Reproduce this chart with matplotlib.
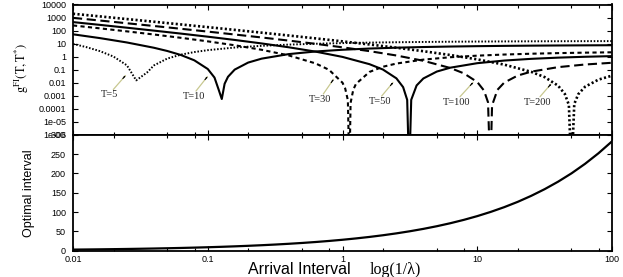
import matplotlib
matplotlib.use("Agg")
import matplotlib.pyplot as plt
from matplotlib.ticker import LogLocator, NullLocator, FixedLocator, FixedFormatter, NullFormatter

# ---------------- data ----------------
x5 = [0.01, 0.01259, 0.01585, 0.01995, 0.02512, 0.02944, 0.03548, 0.03981, 0.05012, 0.0631,
      0.07943, 0.1, 0.1585, 0.2512, 0.3981, 0.631, 1.0, 1.585, 2.512, 3.981, 6.31, 10.0,
      15.85, 25.12, 39.81, 63.1, 100.0]
g5 = [9.43, 5.30, 2.61, 1.01, 0.213, 0.0149, 0.0605, 0.208, 0.708, 1.40, 2.22, 3.11, 4.95,
      6.70, 8.29, 9.67, 10.84, 11.82, 12.63, 13.29, 13.83, 14.26, 14.61, 14.89, 15.12, 15.30, 15.44]

x10 = [0.01, 0.01585, 0.02512, 0.03981, 0.05012, 0.0631, 0.07943, 0.1, 0.1122, 0.1202, 0.1271,
       0.1334, 0.1413, 0.1585, 0.1995, 0.2512, 0.3981, 0.631, 1.0, 1.585, 2.512, 3.981, 6.31,
       10.0, 15.85, 25.12, 39.81, 63.1, 100.0]
g10 = [51.4, 26.2, 12.12, 4.77, 2.685, 1.329, 0.518, 0.1114, 0.0245, 0.0031, 0.00055, 0.00817,
       0.0280, 0.1001, 0.347, 0.695, 1.546, 2.463, 3.343, 4.138, 4.829, 5.416, 5.906, 6.311,
       6.642, 6.911, 7.128, 7.304, 7.444]

x30 = [0.01, 0.01585, 0.02512, 0.03981, 0.0631, 0.1, 0.1585, 0.2512, 0.3981, 0.631, 0.7943, 1.0,
       1.047, 1.096, 1.125, 1.148, 1.202, 1.259, 1.585, 1.995, 2.512, 3.981, 6.31, 10.0, 15.85,
       25.12, 39.81, 63.1, 100.0]
g30 = [246.1, 147.0, 86.42, 49.68, 27.69, 14.78, 7.387, 3.321, 1.237, 0.299, 0.0963, 0.00982,
       0.003557, 0.000445, 1e-9, 0.000274, 0.002845, 0.00797, 0.0661, 0.1655, 0.2917, 0.585,
       0.890, 1.178, 1.435, 1.658, 1.846, 2.002, 2.131]

x50 = [0.01, 0.01585, 0.02512, 0.03981, 0.0631, 0.1, 0.1585, 0.2512, 0.3981, 0.631, 1.0, 1.585,
       1.995, 2.512, 2.818, 3.020, 3.125, 3.236, 3.548, 3.981, 5.012, 6.31, 10.0, 15.85, 25.12,
       39.81, 63.1, 100.0]
g50 = [445.0, 272.1, 164.98, 98.85, 58.33, 33.71, 18.94, 10.22, 5.194, 2.403, 0.943, 0.2613,
       0.1012, 0.02131, 0.004494, 0.000476, 1e-9, 0.000478, 0.006056, 0.0208, 0.0708, 0.1404,
       0.3111, 0.4945, 0.6704, 0.829, 0.967, 1.0843]

x100 = [0.01, 0.01585, 0.02512, 0.03981, 0.0631, 0.1, 0.1585, 0.2512, 0.3981, 0.631, 1.0, 1.585,
        2.512, 3.981, 6.31, 7.943, 10.0, 11.22, 12.02, 12.5, 12.88, 14.13, 15.85, 19.95, 25.12,
        39.81, 63.1, 100.0]
g100 = [944.2, 586.8, 363.2, 223.6, 136.8, 82.91, 49.69, 29.33, 16.95, 9.529, 5.143, 2.616,
        1.212, 0.4766, 0.1329, 0.0518, 0.011145, 0.002463, 0.000309, 1e-9, 0.000179, 0.002814,
        0.01002, 0.03478, 0.06938, 0.1546, 0.2463, 0.3343]

x200 = [0.01, 0.01585, 0.02512, 0.03981, 0.0631, 0.1, 0.1585, 0.2512, 0.3981, 0.631, 1.0, 1.585,
        2.512, 3.981, 6.31, 10.0, 15.85, 25.12, 31.62, 39.81, 44.67, 47.86, 50.0, 52.48, 56.23,
        63.1, 79.43, 100.0]
g200 = [1943.9, 1217.3, 760.9, 474.5, 294.9, 182.5, 112.4, 68.74, 41.68, 24.98, 14.745, 8.527,
        4.793, 2.588, 1.3177, 0.6112, 0.2410, 0.06753, 0.02651, 0.005828, 0.001345, 0.000194,
        1e-9, 0.000229, 0.001303, 0.004825, 0.01708, 0.03432]

x_opt = [0.01, 0.01259, 0.01585, 0.01995, 0.02512, 0.03162, 0.03981, 0.05012, 0.0631, 0.07943,
         0.1, 0.1259, 0.1585, 0.1995, 0.2512, 0.3162, 0.3981, 0.5012, 0.631, 0.7943, 1.0, 1.259,
         1.585, 1.995, 2.512, 3.162, 3.981, 5.012, 6.31, 7.943, 10.0, 12.59, 15.85, 19.95, 25.12,
         31.62, 39.81, 50.12, 63.1, 79.43, 100.0]
t_opt = [2.83, 3.17, 3.56, 4.00, 4.48, 5.03, 5.64, 6.33, 7.10, 7.97, 8.94, 10.04, 11.26, 12.64,
         14.18, 15.90, 17.85, 20.02, 22.47, 25.21, 28.28, 31.74, 35.61, 39.95, 44.83, 50.30,
         56.43, 63.32, 71.05, 79.72, 89.44, 100.36, 112.6, 126.3, 141.8, 159.1, 178.5, 200.2,
         224.7, 252.1, 282.8]

curve_labels = ["T=5", "T=10", "T=30", "T=50", "T=100", "T=200"]
top_yticks = [1e-6, 1e-5, 1e-4, 1e-3, 1e-2, 1e-1, 1, 10, 100, 1000, 10000]
top_ylabels = ["1e-06", "1e-05", "0.0001", "0.001", "0.01", "0.1", "1", "10", "100", "1000", "10000"]
bot_yticks = [0, 50, 100, 150, 200, 250, 300]
bot_ylabels = ["0", "50", "100", "150", "200", "250", "300"]
xticks = [0.01, 0.1, 1, 10, 100]
xlabels = ["0.01", "0.1", "1", "10", "100"]

# ---------------- figure ----------------
W, H = 623, 277
fig = plt.figure(figsize=(W / 100, H / 100), dpi=100)
L, R = 73, 612
T1, B1, B2 = 4.5, 134.7, 250.7
ax1 = fig.add_axes([L / W, 1 - B1 / H, (R - L) / W, (B1 - T1) / H])
ax2 = fig.add_axes([L / W, 1 - B2 / H, (R - L) / W, (B2 - B1) / H])

tickfont = dict(family="Liberation Sans", size=6.5)

series = [
    (x5, g5, dict(color="black", lw=1.4, linestyle=(0, (0.8, 0.9)))),
    (x10, g10, dict(color="black", lw=1.5, linestyle="-")),
    (x30, g30, dict(color="black", lw=1.5, linestyle=(0, (2.0, 1.6)))),
    (x50, g50, dict(color="black", lw=1.5, linestyle="-")),
    (x100, g100, dict(color="black", lw=1.5, linestyle=(0, (4.4, 2.2)))),
    (x200, g200, dict(color="black", lw=1.9, linestyle=(0, (0.8, 0.9)))),
]
for xs, gs, st in series:
    ax1.plot(xs, gs, **st)

ax2.plot(x_opt, t_opt, color="black", lw=1.6)

for ax in (ax1, ax2):
    ax.set_xscale("log")
    ax.set_xlim(0.01, 100)
    ax.xaxis.set_major_locator(FixedLocator(xticks))
    ax.xaxis.set_minor_locator(LogLocator(base=10, subs=[2, 5, 8]))
    ax.xaxis.set_minor_formatter(NullFormatter())
    ax.tick_params(which="both", direction="in", top=True, right=True, width=0.8, color="black")
    ax.tick_params(which="major", length=3.5)
    ax.tick_params(which="minor", length=2)
    for s in ax.spines.values():
        s.set_linewidth(1.3)

ax1.set_yscale("log")
ax1.set_ylim(1e-6, 1e4)
ax1.yaxis.set_major_locator(FixedLocator(top_yticks))
ax1.yaxis.set_major_formatter(FixedFormatter(top_ylabels))
ax1.yaxis.set_minor_locator(NullLocator())
ax1.tick_params(labelbottom=False, pad=5)
for lab in ax1.get_yticklabels():
    lab.set_fontfamily(tickfont["family"]); lab.set_fontsize(tickfont["size"])

ax2.set_ylim(0, 300)
ax2.yaxis.set_major_locator(FixedLocator(bot_yticks))
ax2.yaxis.set_major_formatter(FixedFormatter(bot_ylabels))
ax2.xaxis.set_major_formatter(FixedFormatter(xlabels))
ax2.tick_params(axis="y", pad=5)
ax2.tick_params(axis="x", pad=3)
for lab in ax2.get_yticklabels() + ax2.get_xticklabels():
    lab.set_fontfamily(tickfont["family"]); lab.set_fontsize(tickfont["size"])

# ---------------- annotations (figure pixel positions) ----------------
def fp(px, py):
    return (px / W, 1 - py / H)

ann = [  # label, text center, arrow tail, arrow tip
    ("T=5", (110, 94.3), (113.3, 89.5), (125.5, 75.5)),
    ("T=10", (194, 96.5), (196, 91), (207.5, 76.5)),
    ("T=30", (320, 99.5), (323.3, 94), (333.5, 79.3)),
    ("T=50", (380, 101.7), (381.7, 96), (393, 82.5)),
    ("T=100", (457, 102.3), (460, 96.7), (473, 82.5)),
    ("T=200", (537.5, 102.3), (540, 96.7), (551, 84)),
]
for lab, c, tail, tip in ann:
    fig.text(*fp(*c), lab, ha="center", va="center", fontsize=7.5,
             family="Liberation Serif", color="#222222")
    fig.add_artist(matplotlib.patches.FancyArrowPatch(
        fp(*tail), fp(*tip), transform=fig.transFigure, arrowstyle="-",
        color="#c8c890", lw=0.9, shrinkA=0, shrinkB=0))
    dx, dy = tip[0] - tail[0], tip[1] - tail[1]
    n = (dx * dx + dy * dy) ** 0.5
    pre = (tip[0] - dx / n * 4, tip[1] - dy / n * 4)
    fig.add_artist(matplotlib.patches.FancyArrowPatch(
        fp(*pre), fp(*tip), transform=fig.transFigure,
        arrowstyle="-|>,head_length=0.35,head_width=0.18",
        color="black", lw=0.8, shrinkA=0, shrinkB=0))

# ---------------- axis labels ----------------
plt.rcParams["mathtext.fontset"] = "stix"
fig.text(*fp(22, 68), r"$\mathrm{g}^{\mathrm{FI}}(\mathrm{T},\mathrm{T}^{*})$", rotation=90,
         ha="center", va="center", fontsize=9)
fig.text(*fp(29, 193), "Optimal interval", rotation=90, ha="center", va="center",
         fontsize=9, family=["Liberation Sans Narrow", "Liberation Sans"])
fig.text(*fp(248, 270), "Arrival Interval", ha="left", va="center", fontsize=11.5,
         family="Liberation Sans")
fig.text(*fp(370, 270), "log(1/λ)", ha="left", va="center", fontsize=11.5,
         family="Liberation Serif")

fig.savefig("out.png", dpi=100)
